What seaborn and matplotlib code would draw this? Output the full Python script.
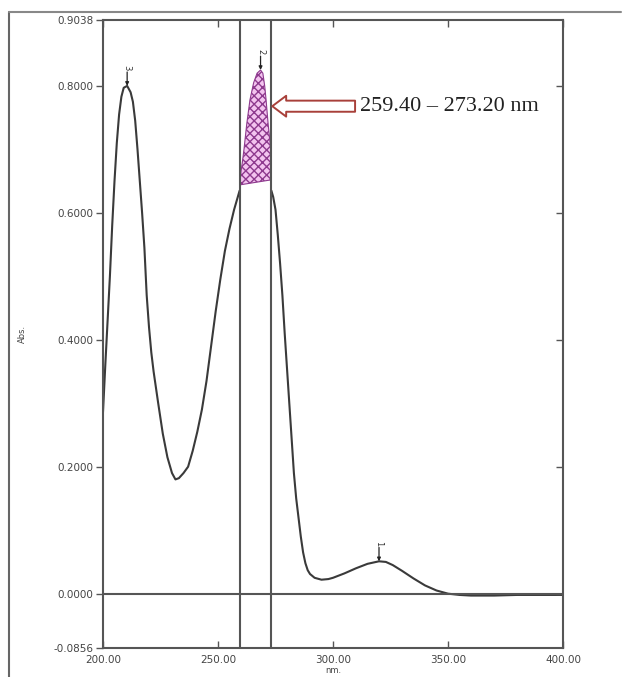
import numpy as np
import pandas as pd
import matplotlib
matplotlib.use("Agg")
import matplotlib.pyplot as plt
import seaborn as sns

# ---------------- data ----------------
wl_left = [200, 201, 202, 203, 204, 205, 206, 207, 208, 209, 210.5, 212, 213, 214, 215, 216, 217,
           218, 219, 220, 221, 222, 224, 226, 228, 230, 231.5, 233, 235, 237, 239, 241, 243, 245,
           247, 249, 251, 253, 255, 257, 259.4]
abs_left = [0.286, 0.36, 0.43, 0.50, 0.58, 0.65, 0.71, 0.755, 0.783, 0.797, 0.800, 0.790, 0.775,
            0.745, 0.700, 0.650, 0.600, 0.545, 0.470, 0.420, 0.380, 0.350, 0.300, 0.252, 0.215,
            0.190, 0.180, 0.182, 0.190, 0.200, 0.225, 0.255, 0.290, 0.335, 0.390, 0.445, 0.495,
            0.540, 0.575, 0.605, 0.635]

wl_win = [259.4, 260.0, 260.6, 261.3, 262.5, 263.9, 265.5, 267.0, 268.5, 269.5, 270.3, 270.9,
          271.8, 272.5, 273.0, 273.2]
abs_win = [0.644, 0.665, 0.680, 0.700, 0.740, 0.778, 0.805, 0.820, 0.825, 0.820, 0.800, 0.778,
           0.740, 0.715, 0.699, 0.652]

wl_right = [273.2, 274, 275, 276, 277, 278, 279, 280, 281, 282, 283, 284, 285, 286, 287, 288,
            289, 290, 292, 295, 298, 300, 305, 310, 315, 320, 323, 326, 330, 335, 340, 345, 350,
            355, 360, 370, 380, 390, 400]
abs_right = [0.635, 0.625, 0.605, 0.565, 0.520, 0.470, 0.410, 0.355, 0.300, 0.245, 0.190, 0.150,
             0.120, 0.090, 0.065, 0.048, 0.037, 0.031, 0.025, 0.022, 0.023, 0.025, 0.032, 0.040,
             0.047, 0.051, 0.050, 0.045, 0.036, 0.024, 0.013, 0.005, 0.000, -0.002, -0.003,
             -0.003, -0.002, -0.002, -0.002]

peak_labels = ["3", "2", "1"]
peak_wl = [210.5, 268.5, 320]
peak_abs = [0.800, 0.825, 0.051]

range_lo, range_hi = 259.40, 273.20
y_ticks = [-0.0856, 0.0, 0.2, 0.4, 0.6, 0.8, 0.9038]
y_ticklabels = ["-0.0856", "0.0000", "0.2000", "0.4000", "0.6000", "0.8000", "0.9038"]
x_ticks = [200, 250, 300, 350, 400]
x_ticklabels = ["200.00", "250.00", "300.00", "350.00", "400.00"]
annot_text = "259.40 \u2013 273.20 nm"

# ---------------- figure ----------------
sns.set_style("white")
plt.rcParams["font.family"] = ["DejaVu Sans"]
plt.rcParams["hatch.color"] = "#9a3c9a"

fig = plt.figure(figsize=(6.26, 6.77), dpi=100)
ax = fig.add_axes([103 / 626, 1 - 648 / 677, 460 / 626, 628 / 677])

line_col = "#3a3a3a"
df_l = pd.DataFrame({"nm": wl_left, "Abs": abs_left})
df_r = pd.DataFrame({"nm": wl_right, "Abs": abs_right})
sns.lineplot(data=df_l, x="nm", y="Abs", ax=ax, color=line_col, lw=1.5, sort=False)
sns.lineplot(data=df_r, x="nm", y="Abs", ax=ax, color=line_col, lw=1.5, sort=False)

# shaded peak area
ax.fill(wl_win, abs_win, facecolor="#f3c4ef", edgecolor="#8e3a8e", hatch="xxxx", lw=0.8)

# vertical range lines and zero line
for xv in (range_lo, range_hi):
    ax.axvline(xv, color="#555555", lw=1.5)
ax.axhline(0.0, color="#555555", lw=1.5)

# peak markers
for lab, px, py in zip(peak_labels, peak_wl, peak_abs):
    ax.annotate("", xy=(px, py), xytext=(0, 10), textcoords="offset points",
                arrowprops=dict(arrowstyle="-|>", lw=0.9, color="#222222",
                                shrinkA=0, shrinkB=0, mutation_scale=5))
    ax.annotate(lab, xy=(px, py), xytext=(0, 11), textcoords="offset points",
                rotation=270, ha="center", va="bottom", fontsize=6, color="#333333")

# hollow arrow annotation
ax.annotate("", xy=(273.6, 0.768), xytext=(309.6, 0.768),
            arrowprops=dict(arrowstyle="simple,head_length=1.0,head_width=1.5,tail_width=0.8",
                            fc="white", ec="#a8403a", lw=1.4, shrinkA=0, shrinkB=0,
                            mutation_scale=10))
ax.text(311.8, 0.767, annot_text, fontsize=16, family=["Liberation Serif"],
        va="center", ha="left", color="#222222")

# axes
ax.set_xlim(200, 400)
ax.set_ylim(-0.0856, 0.9038)
ax.set_xticks(x_ticks)
ax.set_xticklabels(x_ticklabels)
ax.set_yticks(y_ticks)
ax.set_yticklabels(y_ticklabels)
ax.tick_params(axis="y", which="both", left=True, right=False, direction="out",
               length=5, width=1.0, color="#555555", labelsize=7.5, labelcolor="#444444", pad=2)
ax.tick_params(axis="x", which="both", bottom=True, top=True, direction="in",
               length=5, width=1.0, color="#555555", labelsize=7.5, labelcolor="#444444", pad=5)
for sp in ax.spines.values():
    sp.set_color("#555555")
    sp.set_linewidth(1.5)
ax.set_xlabel("nm.", fontsize=6, color="#444444", labelpad=1)
ax.set_ylabel("Abs.", fontsize=6, color="#444444", labelpad=0)
ax.yaxis.set_label_coords(-0.165, 0.5)

# right-side inward ticks
ax2 = ax.twinx()
ax2.set_ylim(ax.get_ylim())
ax2.set_yticks(y_ticks[1:-1])
ax2.tick_params(axis="y", direction="in", length=5, width=1.0, color="#555555",
                labelright=False)
for sp in ax2.spines.values():
    sp.set_visible(False)
ax2.grid(False)

# outer frame (top and left)
fig.add_artist(plt.Line2D([9 / 626, 9 / 626], [0, 1 - 12 / 677], transform=fig.transFigure,
                          color="#666666", lw=1.5))
fig.add_artist(plt.Line2D([9 / 626, 621 / 626], [1 - 12 / 677, 1 - 12 / 677],
                          transform=fig.transFigure, color="#888888", lw=1.5))

fig.savefig("out.png", dpi=100, facecolor="white")
